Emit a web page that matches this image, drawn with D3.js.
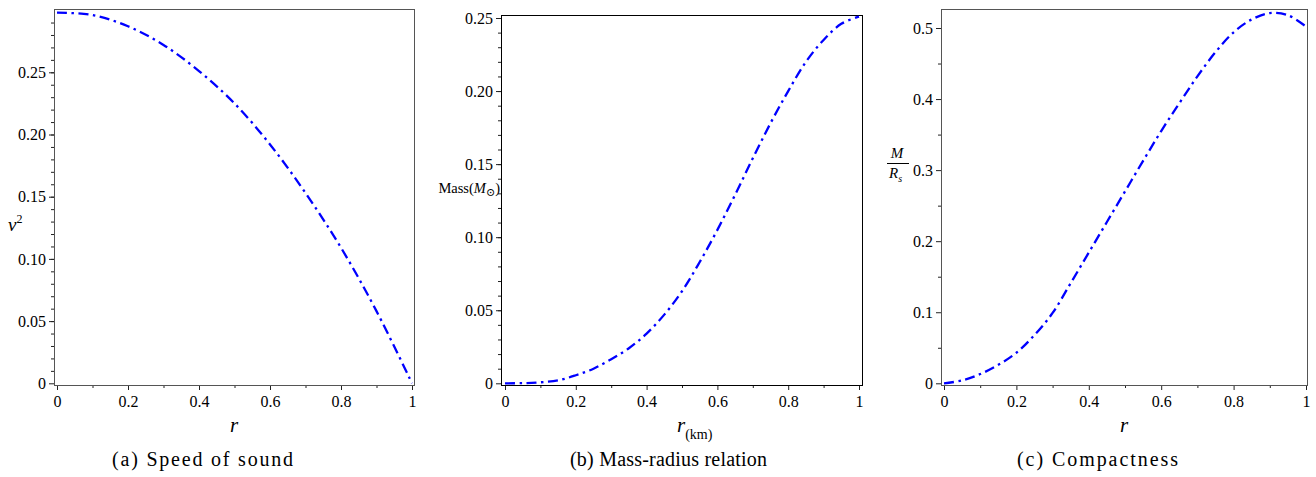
<!DOCTYPE html>
<html>
<head>
<meta charset="utf-8">
<script src="https://cdn.jsdelivr.net/npm/d3@7"></script>
<style>
  body { margin: 0; background: #fff; }
  svg { display: block; }
  text { font-family: "Liberation Serif", "Times New Roman", "DejaVu Serif", serif; fill: #000; }
</style>
</head>
<body>
<div id="chart"></div>
<script>
// --- données ---
const soundR = [0, 0.1, 0.2, 0.3, 0.4, 0.5, 0.6, 0.7, 0.8, 0.9, 1];
const soundV2 = [0.298, 0.296, 0.287, 0.272, 0.251, 0.225, 0.192, 0.153, 0.109, 0.058, 0];

const massR = [0, 0.05, 0.1, 0.15, 0.2, 0.25, 0.3, 0.35, 0.4, 0.45, 0.5, 0.55, 0.6, 0.65, 0.7, 0.75, 0.8, 0.85, 0.9, 0.95, 1];
const massValues = [0, 0.0001, 0.0007, 0.002, 0.0055, 0.010, 0.0165, 0.024, 0.034, 0.047, 0.063, 0.083, 0.105, 0.129, 0.154, 0.178, 0.200, 0.220, 0.235, 0.246, 0.251];

const compactR = [0, 0.05, 0.1, 0.15, 0.2, 0.25, 0.3, 0.35, 0.4, 0.45, 0.5, 0.55, 0.6, 0.65, 0.7, 0.75, 0.8, 0.85, 0.9, 0.95, 1];
const compactValues = [0, 0.004, 0.013, 0.026, 0.043, 0.068, 0.099, 0.141, 0.184, 0.227, 0.270, 0.313, 0.355, 0.394, 0.432, 0.466, 0.494, 0.512, 0.521, 0.518, 0.502];

const xTicks = [0, 0.2, 0.4, 0.6, 0.8, 1];
const xTickLabels = ["0", "0.2", "0.4", "0.6", "0.8", "1"];
const soundTicks = [0, 0.05, 0.10, 0.15, 0.20, 0.25];
const soundTickLabels = ["0", "0.05", "0.10", "0.15", "0.20", "0.25"];
const massTicks = [0, 0.05, 0.10, 0.15, 0.20, 0.25];
const massTickLabels = ["0", "0.05", "0.10", "0.15", "0.20", "0.25"];
const compactTicks = [0, 0.1, 0.2, 0.3, 0.4, 0.5];
const compactTickLabels = ["0", "0.1", "0.2", "0.3", "0.4", "0.5"];

const captions = ["(a) Speed of sound", "(b) Mass-radius relation", "(c) Compactness"];

const W = 1316, H = 477;
const svg = d3.select("#chart").append("svg").attr("width", W).attr("height", H);

function drawPanel(p) {
    const g = svg.append("g");
    const x = d3.scaleLinear().domain([0, 1]).range(p.xRange);
    const y = d3.scaleLinear().domain(p.yDomain).range(p.yRange);

    // ticks mineurs
    const minorY = d3.axisLeft(y).tickValues(p.yMinor).tickSize(3).tickFormat("");
    const minorX = d3.axisBottom(x).tickValues(d3.range(0.1, 1, 0.2)).tickSize(3).tickFormat("");
    g.append("g").attr("transform", `translate(${p.frame[0]},0)`).call(minorY);
    g.append("g").attr("transform", `translate(0,${p.frame[3]})`).call(minorX);

    // ticks majeurs
    const yAxis = d3.axisLeft(y).tickValues(p.yTicks).tickSize(5).tickPadding(3)
        .tickFormat((d, i) => p.yLabels[i]);
    const xAxis = d3.axisBottom(x).tickValues(xTicks).tickSize(5).tickPadding(6)
        .tickFormat((d, i) => xTickLabels[i]);
    g.append("g").attr("transform", `translate(${p.frame[0]},0)`).call(yAxis);
    g.append("g").attr("transform", `translate(0,${p.frame[3]})`).call(xAxis);

    g.selectAll(".domain").remove();
    g.selectAll(".tick line").attr("stroke", "#222");
    g.selectAll("g").attr("font-family", null).attr("font-size", null);
    g.selectAll(".tick text").style("font-size", "16px");

    // cadre
    g.append("rect")
        .attr("x", p.frame[0] + 0.5).attr("y", p.frame[1] + 0.5)
        .attr("width", p.frame[2] - p.frame[0]).attr("height", p.frame[3] - p.frame[1])
        .attr("fill", "none").attr("stroke", p.frameColor).attr("stroke-width", 1);

    // courbe
    const line = d3.line()
        .x((d, i) => x(p.r[i]))
        .y(d => y(d))
        .curve(d3.curveCatmullRom.alpha(0.5));
    g.append("path")
        .datum(p.values)
        .attr("d", line)
        .attr("fill", "none")
        .attr("stroke", "#0000ff")
        .attr("stroke-width", 2.3)
        .attr("stroke-dasharray", "10,4.5,2.5,4.5");

    // légende sous le graphe
    g.append("text")
        .attr("x", p.captionX).attr("y", 466)
        .attr("text-anchor", "middle")
        .attr("textLength", p.captionW).attr("lengthAdjust", "spacing")
        .style("font-size", "20px")
        .text(p.caption);

    return g;
}

// --- (a) vitesse du son ---
const ga = drawPanel({
    frame: [54, 9, 414, 385], frameColor: "#555",
    xRange: [57, 412], yDomain: [0, 0.3], yRange: [383.3, 10.1],
    yTicks: soundTicks, yLabels: soundTickLabels, yMinor: d3.range(0.01, 0.3, 0.01),
    r: soundR, values: soundV2,
    caption: captions[0], captionX: 202.5, captionW: 181
});
ga.append("text").attr("x", 234).attr("y", 432).attr("text-anchor", "middle")
    .style("font-size", "21px").style("font-style", "italic").text("r");
const va = ga.append("text").attr("x", 8).attr("y", 231).style("font-size", "19px");
va.append("tspan").style("font-style", "italic").text("v");
va.append("tspan").attr("dy", -8).style("font-size", "12px").text("2");

// --- (b) masse-rayon ---
const gb = drawPanel({
    frame: [501, 15, 862, 385], frameColor: "#000",
    xRange: [505, 859], yDomain: [0, 0.25], yRange: [383.3, 18],
    yTicks: massTicks, yLabels: massTickLabels, yMinor: d3.range(0.01, 0.25, 0.01),
    r: massR, values: massValues,
    caption: captions[1], captionX: 668.5, captionW: 197
});
const xb = gb.append("text").attr("x", 677).attr("y", 432);
xb.append("tspan").style("font-size", "21px").style("font-style", "italic").text("r");
xb.append("tspan").attr("dy", 7).style("font-size", "14px").text("(km)");
const mb = gb.append("text").attr("x", 500).attr("y", 193).attr("text-anchor", "end").style("font-size", "14.5px");
mb.append("tspan").text("Mass(");
mb.append("tspan").style("font-style", "italic").text("M");
mb.append("tspan").attr("dy", 3).style("font-size", "11px").text("⊙");
mb.append("tspan").attr("dy", -3).text(")");

// --- (c) compacité ---
const gc = drawPanel({
    frame: [941, 9, 1307, 385], frameColor: "#555",
    xRange: [944, 1306], yDomain: [0, 0.5], yRange: [383.3, 28],
    yTicks: compactTicks, yLabels: compactTickLabels, yMinor: d3.range(0.05, 0.55, 0.1),
    r: compactR, values: compactValues,
    caption: captions[2], captionX: 1097.5, captionW: 161
});
gc.append("text").attr("x", 1124).attr("y", 432).attr("text-anchor", "middle")
    .style("font-size", "21px").style("font-style", "italic").text("r");
gc.append("text").attr("x", 897).attr("y", 158).attr("text-anchor", "middle")
    .style("font-size", "15px").style("font-style", "italic").text("M");
gc.append("line").attr("x1", 887).attr("x2", 909).attr("y1", 163.5).attr("y2", 163.5)
    .attr("stroke", "#000").attr("stroke-width", 1);
const rc = gc.append("text").attr("x", 889).attr("y", 178).style("font-size", "15px");
rc.append("tspan").style("font-style", "italic").text("R");
rc.append("tspan").attr("dy", 4).style("font-size", "10px").style("font-style", "italic").text("s");
</script>
</body>
</html>
